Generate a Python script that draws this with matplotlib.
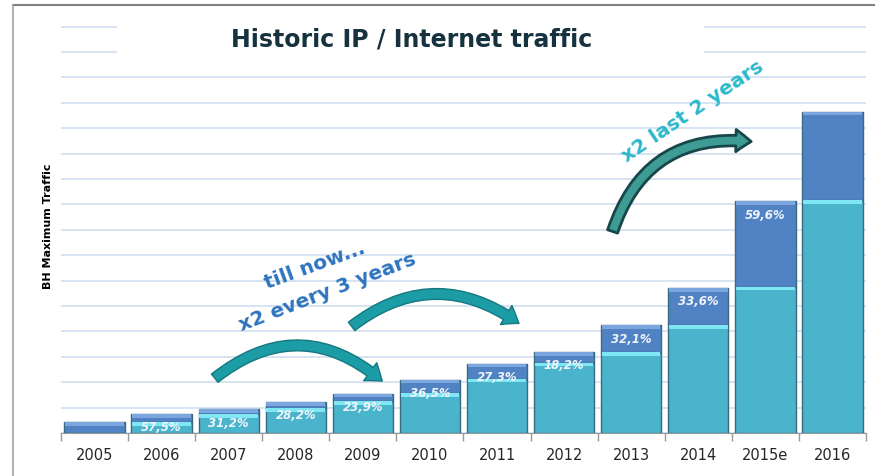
import matplotlib
matplotlib.use("Agg")
import matplotlib.pyplot as plt
from matplotlib.patches import FancyArrowPatch, Rectangle
from matplotlib.lines import Line2D
import numpy as np

# data (1 unit = one gridline step)
years = ['2005', '2006', '2007', '2008', '2009', '2010', '2011',
         '2012', '2013', '2014', '2015e', '2016']
base = [0.0, 0.43, 0.75, 0.97, 1.26, 1.57, 2.13, 2.76, 3.19, 4.25, 5.75, 9.17]
growth = [0.43, 0.32, 0.19, 0.25, 0.28, 0.52, 0.59, 0.43, 1.06, 1.46, 3.38, 3.47]
growth_labels = ['', '57,5%', '31,2%', '28,2%', '23,9%', '36,5%', '27,3%',
                 '18,2%', '32,1%', '33,6%', '59,6%', '']

teal = '#4BB4CD'
teal_hi = '#7FE6F4'
blue = '#5183C4'
blue_hi = '#7BA6DE'
edge = '#3A6A80'

fig = plt.figure(figsize=(8.75, 4.76), dpi=100)
ax = fig.add_axes([0.0697, 0.0903, 0.92, 0.870])

x = np.arange(len(years))
base = np.array(base)
growth = np.array(growth)
total = base + growth
w = 0.9
band = 0.14

ax.bar(x, base, width=w, color=teal, edgecolor=edge, linewidth=1, zorder=3)
ax.bar(x, np.where(base > 0, band, 0), bottom=base - band, width=w * 0.97,
       color=teal_hi, linewidth=0, zorder=4)
ax.bar(x, growth, bottom=base, width=w, color=blue, edgecolor=edge,
       linewidth=1, zorder=3)
ax.bar(x, band, bottom=total - band, width=w * 0.97, color=blue_hi,
       linewidth=0, zorder=4)

for xi, t, lab in zip(x, total, growth_labels):
    if lab:
        ax.text(xi, t - 0.55, lab, ha='center', va='center', fontsize=8.5,
                style='italic', fontweight='bold', color='#EEF4FA', zorder=5)

ax.set_xlim(-0.5, len(years) - 0.5)
ax.set_ylim(0, 16.3)
ax.set_yticks(np.arange(0, 17))
ax.set_yticklabels([])
ax.tick_params(axis='y', length=0)
ax.grid(axis='y', color='#D6E2F2', linewidth=1.3)
ax.set_axisbelow(True)
ax.set_xticks(x)
ax.set_xticklabels(years, fontsize=10.5, color='#262626')
ax.tick_params(axis='x', length=0, pad=11)
ax.set_xticks(np.arange(-0.5, len(years)), minor=True)
ax.tick_params(axis='x', which='minor', length=6, color='#999999', width=1)
for s in ['top', 'right', 'left']:
    ax.spines[s].set_visible(False)
ax.spines['bottom'].set_color('#999999')
ax.set_ylabel('BH Maximum Traffic', fontsize=8, fontweight='bold', labelpad=2)

# white box behind the title
ax.add_patch(Rectangle((0.33, 14.5), 8.75, 2.0, facecolor='white',
                       edgecolor='none', zorder=1))
fig.text(0.47, 0.918, 'Historic IP / Internet traffic', ha='center',
         va='center', fontsize=17, fontweight='bold', color='#16323F')

# curved arrows
arrow_kw = dict(arrowstyle='simple,head_length=0.55,head_width=0.8,tail_width=0.38',
                mutation_scale=20, zorder=6)
ax.add_patch(FancyArrowPatch((1.76, 2.09), (4.32, 1.97),
                             connectionstyle='arc3,rad=-0.42',
                             facecolor='#1C9CA5', edgecolor='#15787F',
                             linewidth=1, **arrow_kw))
ax.add_patch(FancyArrowPatch((3.80, 4.13), (6.36, 4.25),
                             connectionstyle='arc3,rad=-0.38',
                             facecolor='#1C9CA5', edgecolor='#15787F',
                             linewidth=1, **arrow_kw))
ax.add_patch(FancyArrowPatch((7.71, 7.83), (9.83, 11.46),
                             connectionstyle='arc3,rad=-0.41',
                             facecolor='#3E9C94', edgecolor='#17474A',
                             linewidth=2, **arrow_kw))

ax.text(3.29, 6.57, 'till now...', rotation=20, ha='center', va='center',
        fontsize=14.5, fontweight='bold', color='#2E74BE', zorder=7)
ax.text(3.47, 5.55, 'x2 every 3 years', rotation=21, ha='center', va='center',
        fontsize=14.5, fontweight='bold', color='#2E74BE', zorder=7)
ax.text(8.92, 12.65, 'x2 last 2 years', rotation=34, ha='center', va='center',
        fontsize=14.5, fontweight='bold', color='#2DB8CB', zorder=7)

# chart frame (top and left edges)
fig.add_artist(Line2D([13 / 875, 1], [1 - 5 / 476, 1 - 5 / 476],
                      color='#808080', linewidth=1.5))
fig.add_artist(Line2D([13 / 875, 13 / 875], [0, 1 - 5 / 476],
                      color='#A0A0A0', linewidth=1.2))

fig.savefig('out.png', dpi=100)
